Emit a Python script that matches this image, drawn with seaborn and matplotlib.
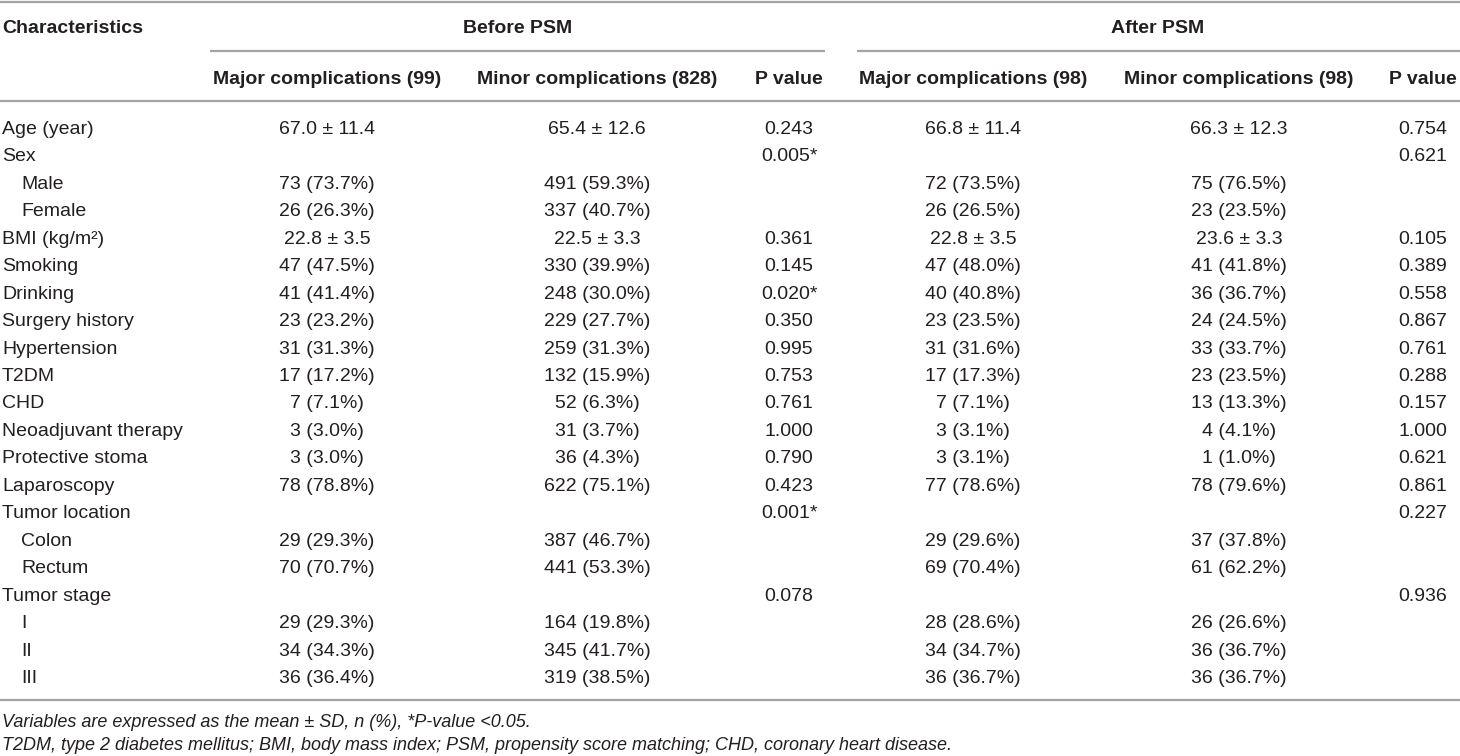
import matplotlib
matplotlib.use("Agg")
import matplotlib.pyplot as plt
import seaborn as sns

sns.set_theme(style="white")
plt.rcParams['font.family'] = ['Liberation Sans', 'DejaVu Sans']

# ---- data ----
characteristics = ["Age (year)", "Sex", "Male", "Female", "BMI (kg/m\u00b2)", "Smoking", "Drinking",
                   "Surgery history", "Hypertension", "T2DM", "CHD", "Neoadjuvant therapy",
                   "Protective stoma", "Laparoscopy", "Tumor location", "Colon", "Rectum",
                   "Tumor stage", "I", "II", "III"]
indented = [False, False, True, True, False, False, False, False, False, False, False, False,
            False, False, False, True, True, False, True, True, True]
before_major = ["67.0 \u00b1 11.4", "", "73 (73.7%)", "26 (26.3%)", "22.8 \u00b1 3.5", "47 (47.5%)",
                "41 (41.4%)", "23 (23.2%)", "31 (31.3%)", "17 (17.2%)", "7 (7.1%)", "3 (3.0%)",
                "3 (3.0%)", "78 (78.8%)", "", "29 (29.3%)", "70 (70.7%)", "", "29 (29.3%)",
                "34 (34.3%)", "36 (36.4%)"]
before_minor = ["65.4 \u00b1 12.6", "", "491 (59.3%)", "337 (40.7%)", "22.5 \u00b1 3.3", "330 (39.9%)",
                "248 (30.0%)", "229 (27.7%)", "259 (31.3%)", "132 (15.9%)", "52 (6.3%)", "31 (3.7%)",
                "36 (4.3%)", "622 (75.1%)", "", "387 (46.7%)", "441 (53.3%)", "", "164 (19.8%)",
                "345 (41.7%)", "319 (38.5%)"]
before_p = ["0.243", "0.005*", "", "", "0.361", "0.145", "0.020*", "0.350", "0.995", "0.753",
            "0.761", "1.000", "0.790", "0.423", "0.001*", "", "", "0.078", "", "", ""]
after_major = ["66.8 \u00b1 11.4", "", "72 (73.5%)", "26 (26.5%)", "22.8 \u00b1 3.5", "47 (48.0%)",
               "40 (40.8%)", "23 (23.5%)", "31 (31.6%)", "17 (17.3%)", "7 (7.1%)", "3 (3.1%)",
               "3 (3.1%)", "77 (78.6%)", "", "29 (29.6%)", "69 (70.4%)", "", "28 (28.6%)",
               "34 (34.7%)", "36 (36.7%)"]
after_minor = ["66.3 \u00b1 12.3", "", "75 (76.5%)", "23 (23.5%)", "23.6 \u00b1 3.3", "41 (41.8%)",
               "36 (36.7%)", "24 (24.5%)", "33 (33.7%)", "23 (23.5%)", "13 (13.3%)", "4 (4.1%)",
               "1 (1.0%)", "78 (79.6%)", "", "37 (37.8%)", "61 (62.2%)", "", "26 (26.6%)",
               "36 (36.7%)", "36 (36.7%)"]
after_p = ["0.754", "0.621", "", "", "0.105", "0.389", "0.558", "0.867", "0.761", "0.288",
           "0.157", "1.000", "0.621", "0.861", "0.227", "", "", "0.936", "", "", ""]

group_headers = ["Before PSM", "After PSM"]
column_headers = ["Major complications (99)", "Minor complications (828)", "P value",
                  "Major complications (98)", "Minor complications (98)", "P value"]
first_header = "Characteristics"
footnotes = ["Variables are expressed as the mean \u00b1 SD, n (%), *P-value <0.05.",
             "T2DM, type 2 diabetes mellitus; BMI, body mass index; PSM, propensity score matching; CHD, coronary heart disease."]

# ---- layout ----
W, H = 1460, 756
fig = plt.figure(figsize=(W / 100, H / 100), dpi=100)
ax = fig.add_axes([0, 0, 1, 1])
ax.set_xlim(0, W)
ax.set_ylim(H, 0)
ax.axis("off")

FS = 14
TXT = "#231f20"
LINE = "#a3a3a3"
LW = 1.6

col_x = [327, 597, 789, 973, 1239, 1423]
group_x = [518, 1158]
group_spans = [(210, 825), (857, 1460)]

# rules
for y in (1.5, 101, 700):
    ax.plot([0, W], [y, y], color=LINE, lw=LW, solid_capstyle="butt")
for (x0, x1) in group_spans:
    ax.plot([x0, x1], [51, 51], color=LINE, lw=LW, solid_capstyle="butt")

# headers
ax.text(2, 33, first_header, fontsize=FS, fontweight="bold", color=TXT, ha="left", va="baseline")
for gx, g in zip(group_x, group_headers):
    ax.text(gx, 33, g, fontsize=FS, fontweight="bold", color=TXT, ha="center", va="baseline")
for cx, h in zip(col_x, column_headers):
    ax.text(cx, 84, h, fontsize=FS, fontweight="bold", color=TXT, ha="center", va="baseline")

# body
y0, step = 134, 27.45
columns = [before_major, before_minor, before_p, after_major, after_minor, after_p]
for i, label in enumerate(characteristics):
    yb = y0 + i * step
    ax.text(21 if indented[i] else 2, yb, label, fontsize=FS, color=TXT, ha="left", va="baseline")
    for cx, col in zip(col_x, columns):
        if col[i]:
            ax.text(cx, yb, col[i], fontsize=FS, color=TXT, ha="center", va="baseline")

# footnotes
for j, note in enumerate(footnotes):
    ax.text(2, 727 + j * 23, note, fontsize=13, style="italic", color=TXT, ha="left", va="baseline")

fig.savefig("out.png", dpi=100)
